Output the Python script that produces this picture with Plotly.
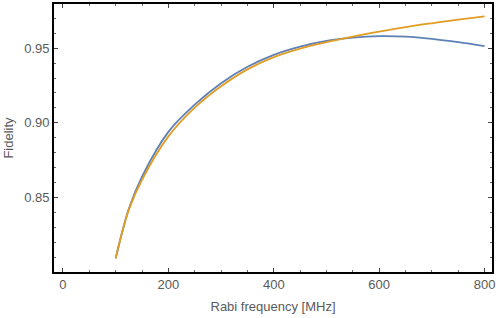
import plotly.graph_objects as go

rabi = [100, 125, 150, 200, 250, 300, 350, 400, 450, 500, 550, 600, 650, 700, 750, 800]
fid_blue = [0.8094, 0.8425, 0.8640, 0.8940, 0.9122, 0.9265, 0.9375, 0.9455, 0.9510,
            0.9548, 0.9570, 0.9580, 0.9577, 0.9562, 0.9540, 0.9513]
fid_orange = [0.8094, 0.8420, 0.8620, 0.8910, 0.9102, 0.9245, 0.9358, 0.9440, 0.9497,
              0.9540, 0.9577, 0.9610, 0.9640, 0.9666, 0.9690, 0.9712]

x_ticks = [0, 200, 400, 600, 800]
y_ticks = [0.85, 0.90, 0.95]

fig = go.Figure()
fig.add_trace(go.Scatter(x=rabi, y=fid_blue, mode="lines", line=dict(color="#5E81B5", width=1.8, shape="spline")))
fig.add_trace(go.Scatter(x=rabi, y=fid_orange, mode="lines", line=dict(color="#E19C24", width=1.8, shape="spline")))

font = dict(family="Liberation Sans, Arial, sans-serif", size=13, color="#5a5a5a")
fig.update_layout(
    width=498, height=318,
    margin=dict(l=54, r=6, t=2, b=46),
    paper_bgcolor="white", plot_bgcolor="white",
    showlegend=False,
    font=font,
)
fig.update_xaxes(
    range=[-17, 814], tickvals=x_ticks, showgrid=False, zeroline=False,
    showline=True, linecolor="black", linewidth=1.6, mirror="ticks",
    ticks="inside", ticklen=4, tickcolor="#444", tickwidth=1,
    minor=dict(dtick=50, tick0=0, ticks="inside", ticklen=2, tickcolor="#666"),
    title=dict(text="Rabi frequency [MHz]", font=font, standoff=10),
    tickfont=font,
)
fig.update_yaxes(
    range=[0.8003, 0.9795], tickvals=y_ticks, tickformat=".2f", showgrid=False, zeroline=False,
    showline=True, linecolor="black", linewidth=1.6, mirror="ticks",
    ticks="inside", ticklen=4, tickcolor="#444", tickwidth=1,
    minor=dict(dtick=0.01, tick0=0.8, ticks="inside", ticklen=2, tickcolor="#666"),
    title=dict(text="Fidelity", font=font, standoff=8),
    tickfont=font,
)
fig.write_html("out.html", config={"displayModeBar": False},
               post_script="document.body.style.margin='0';document.body.style.overflow='hidden';")
